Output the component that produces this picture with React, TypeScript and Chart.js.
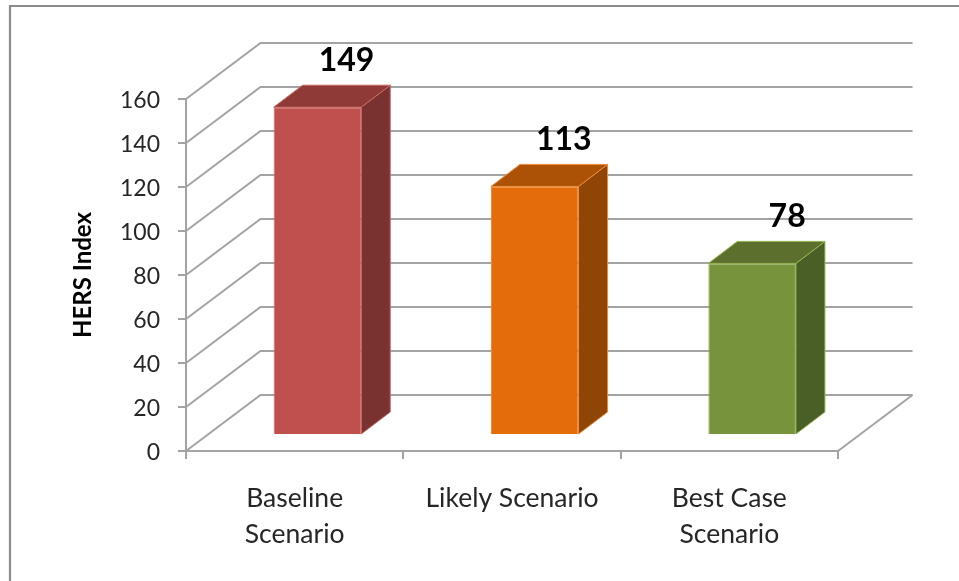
import React, { useEffect, useRef } from "react";
import { Chart, registerables } from "chart.js";

Chart.register(...registerables);

const categories: (string | string[])[] = [["Baseline", "Scenario"], "Likely Scenario", ["Best Case", "Scenario"]];
const values = [149, 113, 78];
const frontColors = ["#C0504D", "#E46C0A", "#77933C"];
const sideColors = ["#7A3230", "#8F4506", "#4A5F26"];
const topColors = ["#8F3A37", "#AB5207", "#5C6F2D"];
const edgeColors = ["#CB6764", "#F08A35", "#93B350"];
const labelNudge = [0, 0, 6];

const GRID = "#A3A3A3";
const FONT = "Lato, Carlito, sans-serif";
const WALL = { dx: 74.5, dy: -56 };
const SHIFT = { dx: 22.8, dy: -16 };
const DEPTH = { dx: 29, dy: -22 };

const threeD = {
  id: "threeD",
  beforeDraw(chart: any) {
    const c = chart.ctx;
    c.save();
    c.fillStyle = "#fff";
    c.fillRect(0, 0, chart.width, chart.height);
    c.strokeStyle = "#8C8C8C";
    c.lineWidth = 2.2;
    c.beginPath();
    c.moveTo(10, chart.height);
    c.lineTo(10, 6);
    c.lineTo(chart.width, 6);
    c.stroke();
    c.restore();
  },
  beforeDatasetsDraw(chart: any) {
    const c = chart.ctx;
    const y = chart.scales.y;
    const { left, right, bottom } = chart.chartArea;
    c.save();
    c.strokeStyle = GRID;
    c.lineWidth = 2;
    c.lineJoin = "miter";
    y.ticks.forEach((t: any) => {
      const py = y.getPixelForValue(t.value);
      c.beginPath();
      c.moveTo(left, py);
      c.lineTo(left + WALL.dx, py + WALL.dy);
      c.lineTo(right + WALL.dx, py + WALL.dy);
      c.stroke();
    });
    c.beginPath();
    c.moveTo(right + WALL.dx, bottom + WALL.dy);
    c.lineTo(right, bottom);
    c.stroke();
    c.restore();
  },
  beforeDatasetDraw(chart: any, args: any) {
    const c = chart.ctx;
    const meta = args.meta;
    c.save();
    meta.data.forEach((bar: any, i: number) => {
      const l = bar.x - bar.width / 2 + SHIFT.dx;
      const r = bar.x + bar.width / 2 + SHIFT.dx;
      const t = bar.y + SHIFT.dy;
      const b = bar.base + SHIFT.dy;
      c.lineWidth = 1;
      c.strokeStyle = edgeColors[i];
      c.fillStyle = sideColors[i];
      c.beginPath();
      c.moveTo(r, t);
      c.lineTo(r + DEPTH.dx, t + DEPTH.dy);
      c.lineTo(r + DEPTH.dx, b + DEPTH.dy);
      c.lineTo(r, b);
      c.closePath();
      c.fill();
      c.stroke();
      c.fillStyle = topColors[i];
      c.beginPath();
      c.moveTo(l, t);
      c.lineTo(l + DEPTH.dx, t + DEPTH.dy);
      c.lineTo(r + DEPTH.dx, t + DEPTH.dy);
      c.lineTo(r, t);
      c.closePath();
      c.fill();
      c.stroke();
    });
    c.restore();
    c.save();
    c.translate(SHIFT.dx, SHIFT.dy);
  },
  afterDatasetDraw(chart: any) {
    chart.ctx.restore();
  },
  afterDatasetsDraw(chart: any) {
    const c = chart.ctx;
    const meta = chart.getDatasetMeta(0);
    c.save();
    c.fillStyle = "#000";
    c.font = `bold 32px ${FONT}`;
    c.textAlign = "center";
    c.textBaseline = "middle";
    meta.data.forEach((bar: any, i: number) => {
      c.fillText(
        String(values[i]),
        bar.x + SHIFT.dx + DEPTH.dx + labelNudge[i],
        bar.y + SHIFT.dy + DEPTH.dy - 25
      );
    });
    c.restore();
  },
};

export default function App() {
  const ref = useRef<HTMLCanvasElement>(null);
  useEffect(() => {
    const chart = new Chart(ref.current!, {
      type: "bar",
      data: {
        labels: categories as any,
        datasets: [
          {
            data: values,
            backgroundColor: frontColors,
            borderColor: edgeColors,
            borderWidth: 1,
            barPercentage: 0.403,
            categoryPercentage: 1,
            clip: false as any,
          },
        ],
      },
      options: {
        responsive: false,
        animation: false,
        layout: { padding: { top: 99, right: 121, left: 0, bottom: 0 } },
        plugins: { legend: { display: false }, tooltip: { enabled: false }, title: { display: false } },
        scales: {
          x: {
            afterFit: (s: any) => {
              s.height = 130;
            },
            grid: { drawOnChartArea: false, color: GRID, tickLength: 8, lineWidth: 2, offset: true },
            border: { color: GRID, width: 2 },
            ticks: {
              color: "#262626",
              font: { family: FONT, size: 26.5, lineHeight: 1.36 },
              padding: 21,
              maxRotation: 0,
              autoSkip: false,
            },
          },
          y: {
            min: 0,
            max: 160,
            afterFit: (s: any) => {
              s.width = 186;
            },
            grid: { drawOnChartArea: false, color: GRID, tickLength: 8, lineWidth: 2 },
            border: { color: GRID, width: 2 },
            ticks: {
              stepSize: 20,
              color: "#262626",
              font: { family: FONT, size: 23 },
              padding: 18,
              labelOffset: 2,
            },
            title: {
              display: true,
              text: "HERS Index",
              color: "#000",
              font: { family: FONT, size: 24, weight: "bold" },
              padding: { top: 69, bottom: 0 },
            },
          },
        },
      },
      plugins: [threeD],
    } as any);
    return () => chart.destroy();
  }, []);
  return (
    <div style={{ position: "fixed", left: 0, top: 0, width: 959, height: 581 }}>
      <canvas
        ref={ref}
        width={959}
        height={581}
        style={{ display: "block", width: 959, height: 581, filter: "blur(0.45px)" }}
      />
    </div>
  );
}
